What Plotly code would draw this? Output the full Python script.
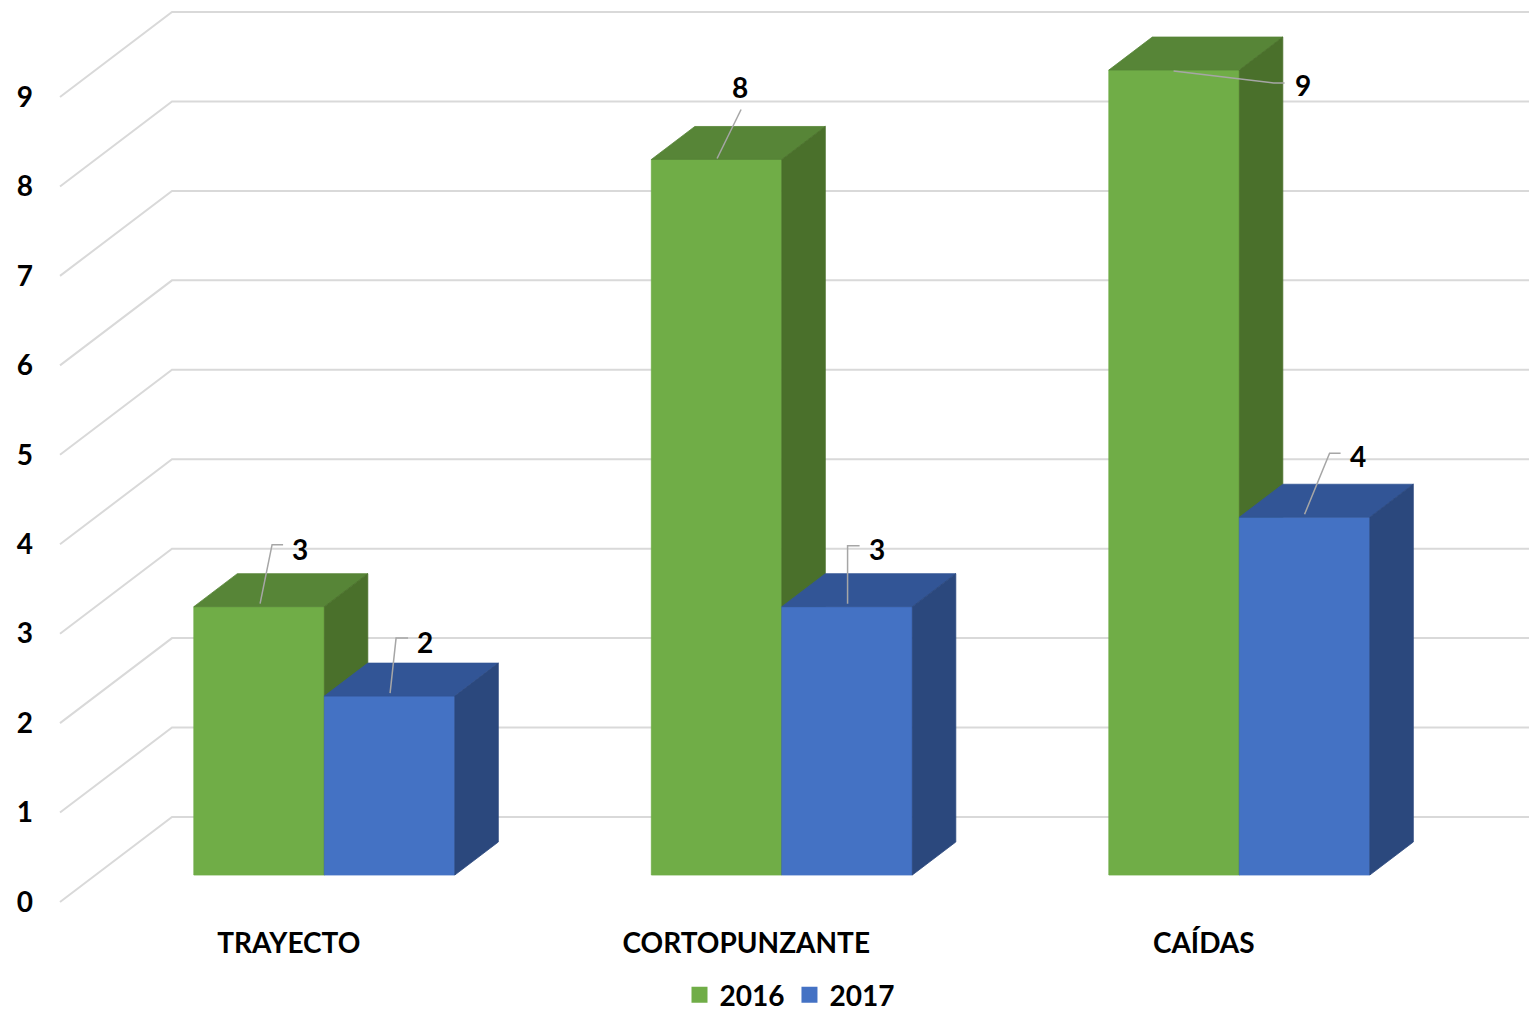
import plotly.graph_objects as go

# ---------------- data ----------------
categories = ["TRAYECTO", "CORTOPUNZANTE", "CAÍDAS"]
series_names = ["2016", "2017"]
values_2016 = [3, 8, 9]
values_2017 = [2, 3, 4]
y_ticks = [0, 1, 2, 3, 4, 5, 6, 7, 8, 9]

# ---------------- style / layout constants ----------------
# page body has an 8px margin, so the figure is 16px smaller than the window
W, H = 1521, 1005
ML, MR, MT, MB = 42, 0, 0, 103
PX_PER_CAT = 457.5
PX_PER_VAL = 89.44
CENTER0_PX = 280.75          # front-plane centre of first category (figure px)
ZERO_PX = 894                # front-plane value 0 (figure px)
PLOT_BOTTOM = H - MB

X_RANGE = [(ML - CENTER0_PX) / PX_PER_CAT, (W - MR - CENTER0_PX) / PX_PER_CAT]
Y_RANGE = [(ZERO_PX - PLOT_BOTTOM) / PX_PER_VAL, ZERO_PX / PX_PER_VAL]

DX_WALL = 112 / PX_PER_CAT
DY_WALL = 85 / PX_PER_VAL
D_FRONT = 27 / 85
D_BACK = 60 / 85
BAR_W = 130.5 / PX_PER_CAT
WALL_LEFT = -0.5

COLORS = {
    "2016": {"front": "#70AD47", "top": "#578537", "side": "#4A702B"},
    "2017": {"front": "#4472C4", "top": "#325596", "side": "#2B487D"},
}
GRID_COLOR = "#D9D9D9"
LEADER_COLOR = "#A6A6A6"
FONT = dict(family="Lato", size=28, color="#000000", weight="bold")

# label placement (pixel offsets from the top-front-centre of each bar):
# leader path points then label centre
LABEL_LAYOUT = {
    ("2016", 0): {"path": [(1, -3), (13, -62), (24, -62)], "label": (41, -58)},
    ("2017", 0): {"path": [(0.5, -3), (6.5, -58), (18.5, -58)], "label": (35.5, -54)},
    ("2016", 1): {"path": [(0.5, -1), (24.5, -50)], "label": (23.5, -72)},
    ("2017", 1): {"path": [(0.5, -3), (0.5, -61), (12.5, -61)], "label": (29.5, -58)},
    ("2016", 2): {"path": [(-0.5, 1), (99.5, 13), (110.5, 13)], "label": (128.5, 15)},
    ("2017", 2): {"path": [(0, -3), (25, -64), (36, -64)], "label": (53, -61)},
}


def proj(x, v, d):
    """Oblique projection: front-plane (x, value) pushed back by depth fraction d."""
    return x + d * DX_WALL, v + d * DY_WALL


fig = go.Figure()

# ---------------- walls / gridlines ----------------
gx, gy = [], []
for t in y_ticks:
    p0 = proj(WALL_LEFT, t, 0)
    p1 = proj(WALL_LEFT, t, 1)
    gx += [p0[0], p1[0], X_RANGE[1] + 0.05, None]
    gy += [p0[1], p1[1], p1[1], None]
fig.add_trace(go.Scatter(x=gx, y=gy, mode="lines", line=dict(color=GRID_COLOR, width=2),
                         hoverinfo="skip", showlegend=False))

# ---------------- 3D bars ----------------
all_values = {"2016": values_2016, "2017": values_2017}
annotations = []
lx, ly = [], []
for i, cat in enumerate(categories):
    for s, name in enumerate(series_names):
        v = all_values[name][i]
        x0 = i - BAR_W + s * BAR_W
        x1 = x0 + BAR_W
        a = proj(x0, 0, D_FRONT); b = proj(x1, 0, D_FRONT)
        c = proj(x1, v, D_FRONT); d_ = proj(x0, v, D_FRONT)
        e = proj(x1, 0, D_BACK); f = proj(x1, v, D_BACK); g = proj(x0, v, D_BACK)
        faces = {
            "front": [a, b, c, d_, a],
            "top": [d_, c, f, g, d_],
            "side": [b, e, f, c, b],
        }
        for face in ["front", "top", "side"]:
            pts = faces[face]
            col = COLORS[name][face]
            fig.add_trace(go.Scatter(
                x=[p[0] for p in pts], y=[p[1] for p in pts], mode="lines",
                fill="toself", fillcolor=col, line=dict(color=col, width=0.8),
                hoverinfo="skip", showlegend=False))
        # data label with leader line
        ax_, ay_ = proj((x0 + x1) / 2, v, D_FRONT)
        lay = LABEL_LAYOUT[(name, i)]
        for (px, py) in lay["path"]:
            lx.append(ax_ + px / PX_PER_CAT)
            ly.append(ay_ - py / PX_PER_VAL)
        lx.append(None); ly.append(None)
        annotations.append(dict(x=ax_, y=ay_, xref="x", yref="y", text=str(v),
                                showarrow=False, font=FONT,
                                xshift=lay["label"][0], yshift=-lay["label"][1]))

fig.add_trace(go.Scatter(x=lx, y=ly, mode="lines", line=dict(color=LEADER_COLOR, width=1.5),
                         hoverinfo="skip", showlegend=False))

# ---------------- legend entries ----------------
for name in series_names:
    fig.add_trace(go.Scatter(x=[None], y=[None], mode="markers", name=name,
                             marker=dict(symbol="square", size=18, color=COLORS[name]["front"])))

LEGEND_DROP = 7  # px the legend box hangs below the figure bottom (its padding is blank)
fig.update_layout(
    width=W, height=H,
    margin=dict(l=ML, r=MR, t=MT, b=MB, autoexpand=False),
    paper_bgcolor="white", plot_bgcolor="white",
    font=FONT,
    showlegend=True,
    legend=dict(orientation="h", x=0.5, xanchor="center",
                y=-(MB + LEGEND_DROP) / PLOT_BOTTOM, yanchor="bottom",
                bgcolor="rgba(0,0,0,0)",
                font=FONT, itemsizing="trace", itemclick=False),
    annotations=annotations,
    xaxis=dict(range=X_RANGE, showgrid=False, zeroline=False, showline=False, automargin=False,
               tickmode="array", tickvals=list(range(len(categories))), ticktext=categories,
               ticks="", ticklabelstandoff=14, tickfont=FONT, fixedrange=True),
    yaxis=dict(range=Y_RANGE, showgrid=False, zeroline=False, showline=False, automargin=False,
               tickmode="array", tickvals=y_ticks, ticktext=[str(t) for t in y_ticks],
               ticks="", ticklabelstandoff=16, tickfont=FONT, fixedrange=True),
)

fig.write_html("out.html")
